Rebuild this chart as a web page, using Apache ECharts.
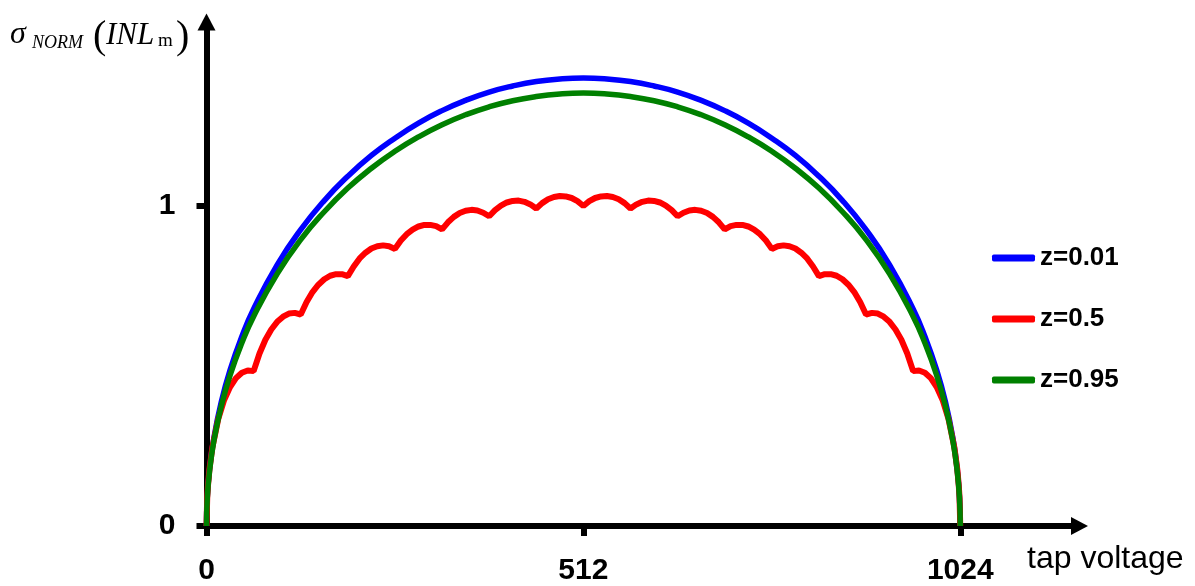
<!DOCTYPE html>
<html>
<head>
<meta charset="utf-8">
<title>sigma NORM INL</title>
<script src="https://cdn.jsdelivr.net/npm/echarts@6/dist/echarts.min.js"></script>
<style>
  html, body { margin: 0; padding: 0; background: #fff; }
  #chart { width: 1195px; height: 586px; }
</style>
</head>
<body>
<div id="chart"></div>
<script>
// tap positions for the two smooth curves
const taps = [0, 1, 4, 10, 20, 32, 48, 64, 96, 128, 160, 192, 224, 256, 288, 320, 352, 384, 416, 448, 480, 512,
  544, 576, 608, 640, 672, 704, 736, 768, 800, 832, 864, 896, 928, 960, 976, 992, 1004, 1014, 1020, 1023, 1024]
// z = 0.01
const blueVals = [0, 0.087, 0.175, 0.275, 0.387, 0.487, 0.592, 0.678, 0.816, 0.926, 1.017, 1.093, 1.158, 1.212, 1.259, 1.298, 1.330, 1.356, 1.375, 1.389, 1.397, 1.400,
  1.397, 1.389, 1.375, 1.356, 1.330, 1.298, 1.259, 1.212, 1.158, 1.093, 1.017, 0.926, 0.816, 0.678, 0.592, 0.487, 0.387, 0.275, 0.175, 0.087, 0]
// z = 0.95
const greenVals = [0, 0.085, 0.169, 0.266, 0.374, 0.471, 0.572, 0.655, 0.788, 0.895, 0.982, 1.056, 1.118, 1.171, 1.216, 1.254, 1.285, 1.310, 1.329, 1.342, 1.350, 1.353,
  1.350, 1.342, 1.329, 1.310, 1.285, 1.254, 1.216, 1.171, 1.118, 1.056, 0.982, 0.895, 0.788, 0.655, 0.572, 0.471, 0.374, 0.266, 0.169, 0.085, 0]

// z = 0.5 (scalloped), read every 8 taps
const redTaps = [0, 1, 2, 4, 8, 16, 24, 32, 40, 48, 56, 64, 72, 80, 88, 96, 104, 112, 120, 128,
  136, 144, 152, 160, 168, 176, 184, 192, 200, 208, 216, 224, 232, 240, 248, 256,
  264, 272, 280, 288, 296, 304, 312, 320, 328, 336, 344, 352, 360, 368, 376, 384,
  392, 400, 408, 416, 424, 432, 440, 448, 456, 464, 472, 480, 488, 496, 504, 512,
  520, 528, 536, 544, 552, 560, 568, 576, 584, 592, 600, 608, 616, 624, 632, 640,
  648, 656, 664, 672, 680, 688, 696, 704, 712, 720, 728, 736, 744, 752, 760, 768,
  776, 784, 792, 800, 808, 816, 824, 832, 840, 848, 856, 864, 872, 880, 888, 896,
  904, 912, 920, 928, 936, 944, 952, 960, 968, 976, 984, 992, 1000, 1008, 1016,
  1020, 1022, 1023, 1024]
const redVals = [0, 0.090, 0.126, 0.177,
  0.246, 0.335, 0.394, 0.434, 0.462, 0.479, 0.486, 0.484,
  0.539, 0.582, 0.614, 0.638, 0.654, 0.664, 0.666, 0.661,
  0.700, 0.731, 0.754, 0.771, 0.782, 0.787, 0.787, 0.781,
  0.811, 0.836, 0.854, 0.867, 0.874, 0.877, 0.874, 0.866,
  0.892, 0.912, 0.926, 0.936, 0.941, 0.941, 0.937, 0.927,
  0.949, 0.966, 0.978, 0.985, 0.988, 0.986, 0.979, 0.968,
  0.987, 1.001, 1.011, 1.016, 1.017, 1.013, 1.005, 0.992,
  1.009, 1.021, 1.028, 1.031, 1.030, 1.025, 1.015, 1.000,
  1.015, 1.025, 1.030, 1.031, 1.028, 1.021, 1.009, 0.992,
  1.005, 1.013, 1.017, 1.016, 1.011, 1.001, 0.987, 0.968,
  0.979, 0.986, 0.988, 0.985, 0.978, 0.966, 0.949, 0.927,
  0.937, 0.941, 0.941, 0.936, 0.926, 0.912, 0.892, 0.866,
  0.874, 0.877, 0.874, 0.867, 0.854, 0.836, 0.811, 0.781,
  0.787, 0.787, 0.782, 0.771, 0.754, 0.731, 0.700, 0.661,
  0.666, 0.664, 0.654, 0.638, 0.614, 0.582, 0.539, 0.484,
  0.486, 0.479, 0.462, 0.434, 0.394, 0.335, 0.246,
  0.177, 0.126, 0.090, 0]

const xTickLabels = [0, 512, 1024]
const yTickLabels = [0, 1]
const seriesNames = ['z=0.01', 'z=0.5', 'z=0.95']

const pair = (xs, ys) => xs.map((x, i) => [x, ys[i]])

let myChart = echarts.init(document.getElementById('chart'))
const sans = '"Liberation Sans", Arial, sans-serif'
const serif = '"Liberation Serif", "Times New Roman", serif'

const option = {
  animation: false,
  backgroundColor: '#fff',
  grid: { left: 206.5, top: 22, width: 873, height: 504, outerBoundsMode: 'none', containLabel: false },
  xAxis: {
    type: 'value',
    min: 0,
    max: 1186,
    axisLine: {
      onZero: false,
      symbol: ['none', 'triangle'],
      symbolSize: [18, 17],
      lineStyle: { color: '#000', width: 6 }
    },
    axisTick: { show: true, customValues: xTickLabels, length: 10, lineStyle: { color: '#000', width: 6 } },
    axisLabel: {
      customValues: xTickLabels, margin: 30, color: '#000', fontSize: 30, fontWeight: 'bold', fontFamily: sans,
      formatter: v => String(v)
    },
    splitLine: { show: false }
  },
  yAxis: {
    type: 'value',
    min: 0,
    max: 1.575,
    axisLine: {
      show: true,
      onZero: false,
      symbol: ['none', 'triangle'],
      symbolSize: [18, 17],
      lineStyle: { color: '#000', width: 6 }
    },
    axisTick: { show: true, customValues: yTickLabels, length: 10, lineStyle: { color: '#000', width: 6 } },
    axisLabel: {
      customValues: yTickLabels, margin: 31, color: '#000', fontSize: 30, fontWeight: 'bold', fontFamily: sans,
      formatter: v => String(v)
    },
    splitLine: { show: false }
  },
  legend: {
    orient: 'vertical',
    left: 987,
    top: 240,
    itemGap: 35,
    itemWidth: 43,
    itemHeight: 7,
    icon: 'roundRect',
    data: seriesNames,
    textStyle: { color: '#000', fontSize: 26, fontWeight: 'bold', fontFamily: sans }
  },
  series: [
    {
      name: seriesNames[0], type: 'line', data: pair(taps, blueVals),
      showSymbol: false, smooth: 0.5,
      itemStyle: { color: '#0000ff' }, lineStyle: { color: '#0000ff', width: 5.5 }
    },
    {
      name: seriesNames[1], type: 'line', data: pair(redTaps, redVals),
      showSymbol: false, smooth: false,
      itemStyle: { color: '#ff0000' }, lineStyle: { color: '#ff0000', width: 6 }
    },
    {
      name: seriesNames[2], type: 'line', data: pair(taps, greenVals),
      showSymbol: false, smooth: 0.5,
      itemStyle: { color: '#008000' }, lineStyle: { color: '#008000', width: 5.5 }
    }
  ],
  graphic: [
    // y axis name: sigma_NORM ( INL_m )
    { type: 'text', left: 10, top: 19, style: { text: 'σ', font: 'italic 32px ' + serif, fill: '#000' } },
    { type: 'text', left: 32, top: 34, style: { text: 'NORM', font: 'italic 18px ' + serif, fill: '#000' } },
    { type: 'text', left: 93, top: 17, style: { text: '(', font: '40px ' + serif, fill: '#000' } },
    { type: 'text', left: 106, top: 20, style: { text: 'INL', font: 'italic 31px ' + serif, fill: '#000' } },
    { type: 'text', left: 158, top: 32, style: { text: 'm', font: '19px ' + serif, fill: '#000' } },
    { type: 'text', left: 176, top: 17, style: { text: ')', font: '40px ' + serif, fill: '#000' } },
    // x axis name
    { type: 'text', left: 1027, top: 543, style: { text: 'tap voltage', font: '32px ' + sans, fill: '#000' } }
  ]
}
myChart.setOption(option)
</script>
</body>
</html>
